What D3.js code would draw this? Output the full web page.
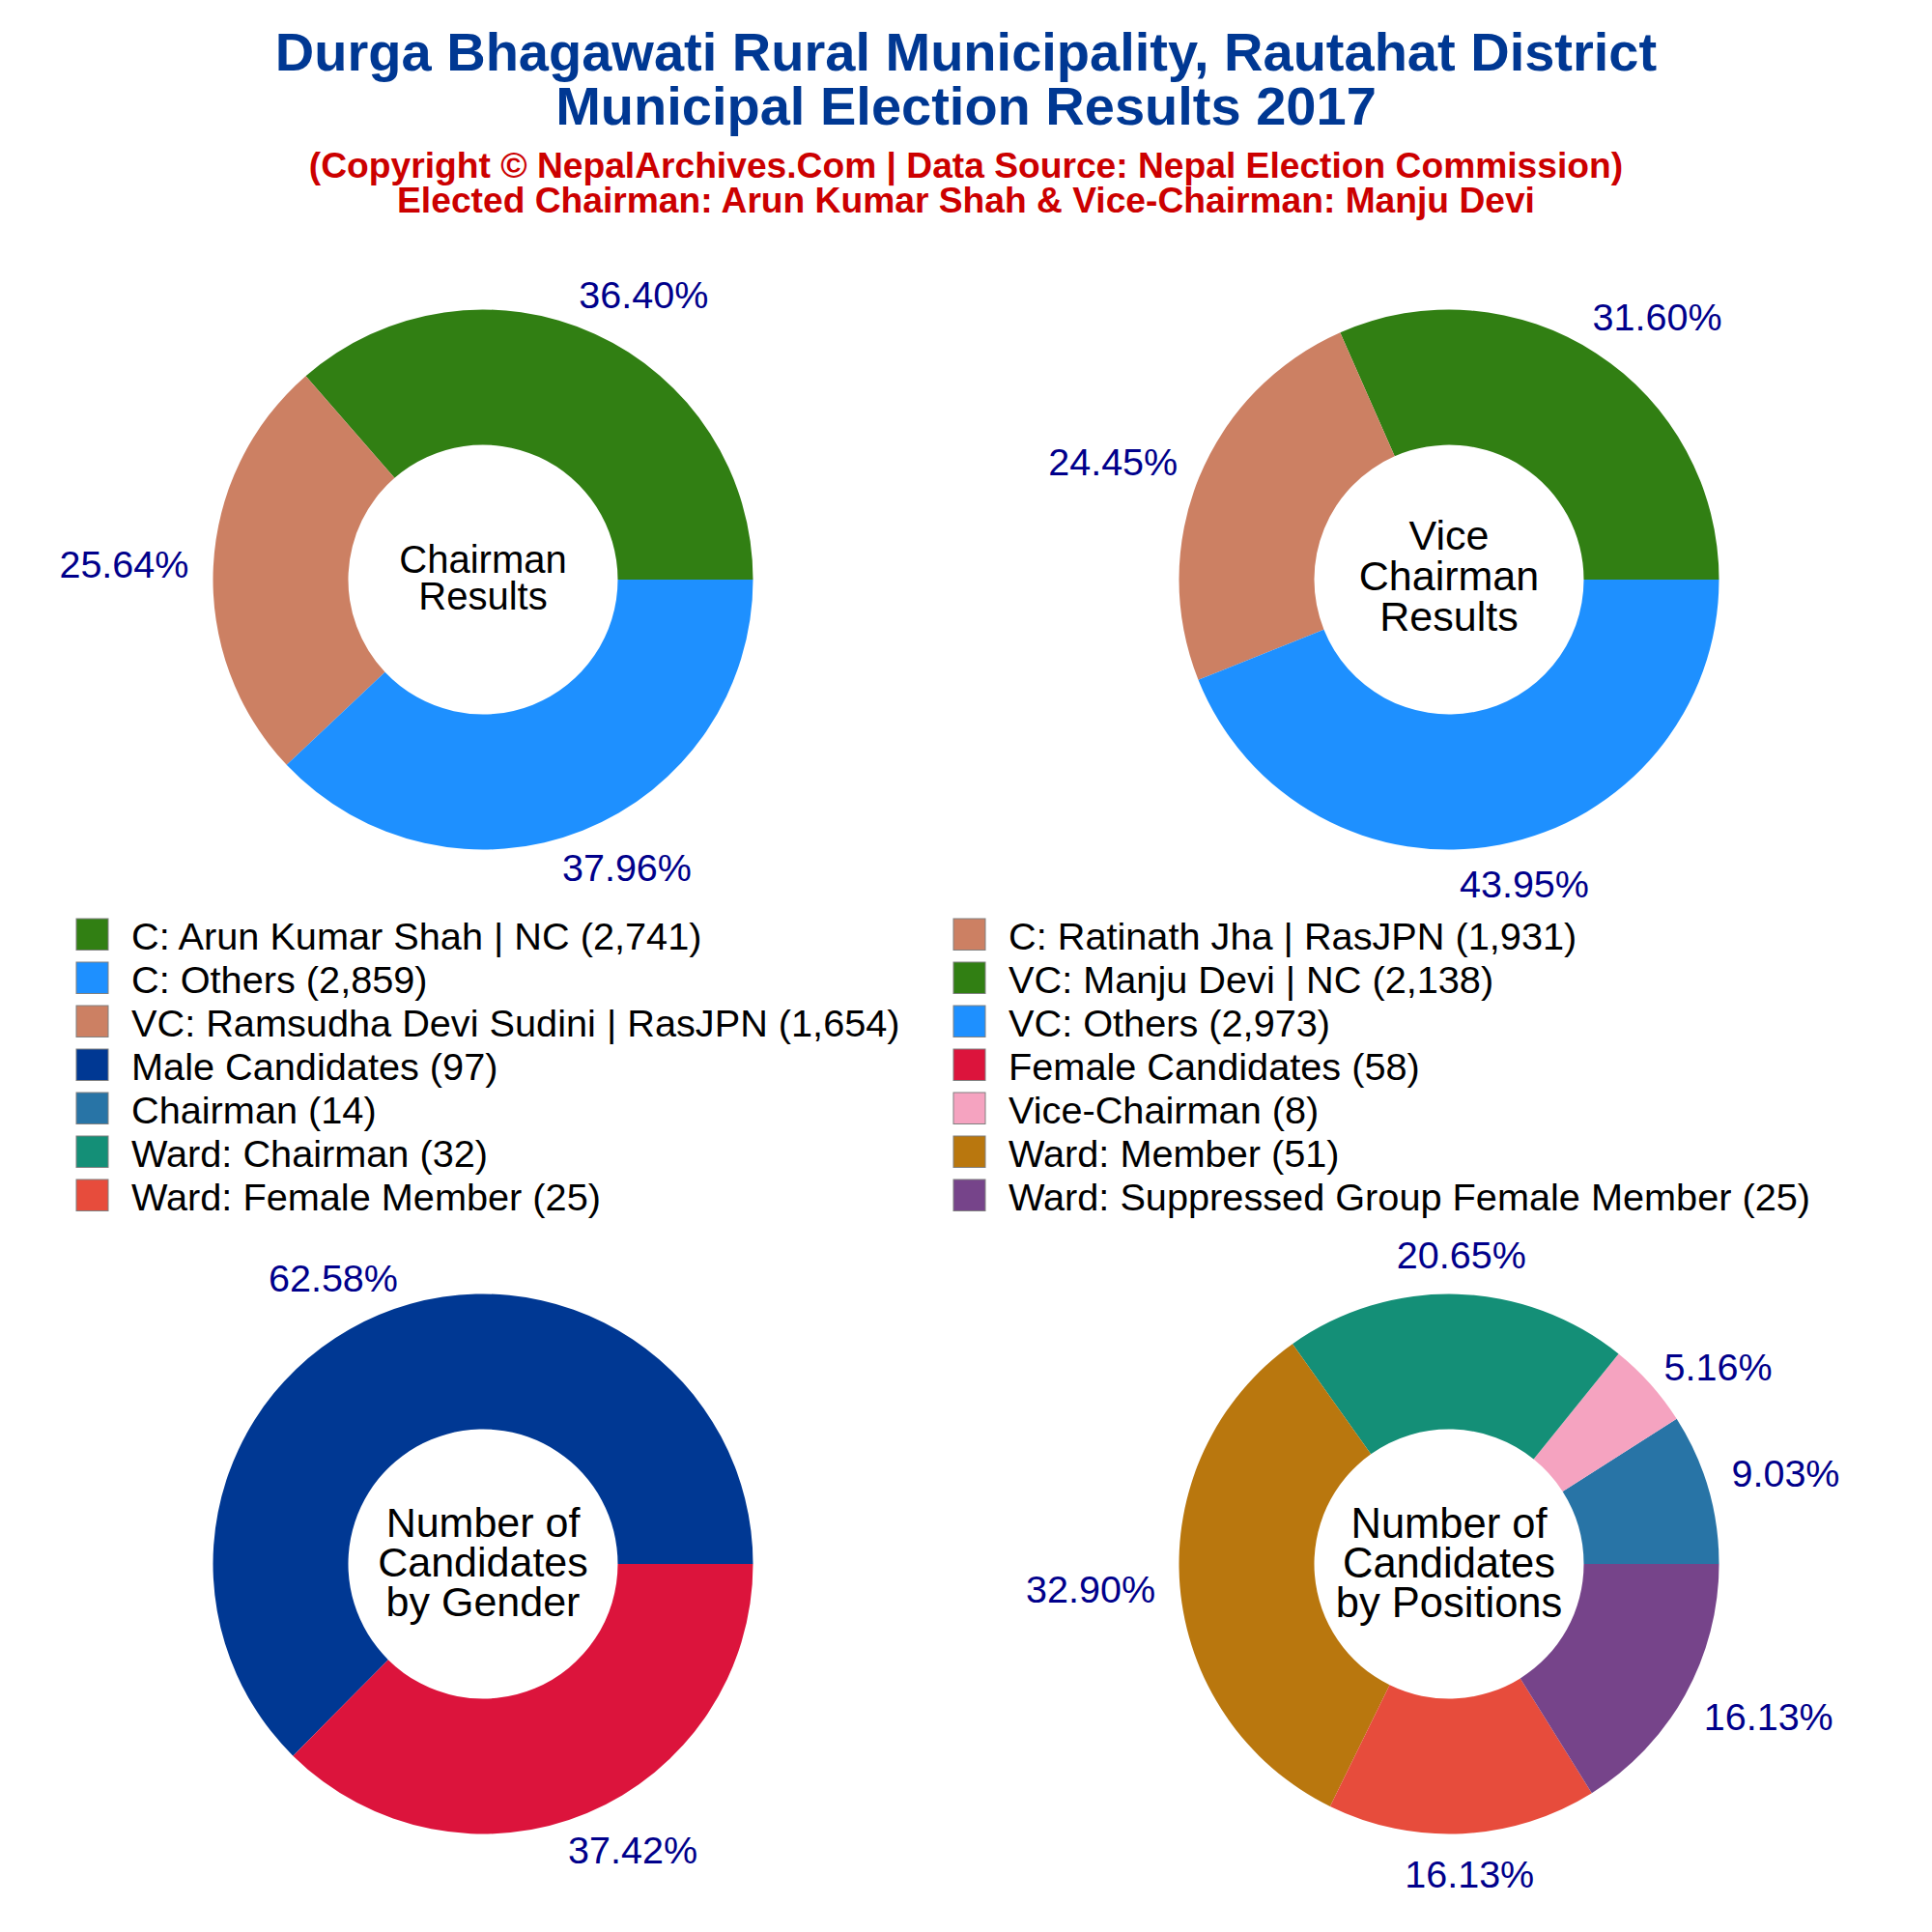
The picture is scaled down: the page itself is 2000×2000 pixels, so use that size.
<!DOCTYPE html>
<html>
<head>
<meta charset="utf-8">
<script src="https://cdn.jsdelivr.net/npm/d3@7"></script>
<style>
	html, body { margin: 0; padding: 0; background: #fff; }
	text { font-family: "Liberation Sans", Arial, sans-serif; }
</style>
</head>
<body>
<div id="canvas"></div>
<script>
const titleLines = ["Durga Bhagawati Rural Municipality, Rautahat District", "Municipal Election Results 2017"];
const subtitleLines = ["(Copyright © NepalArchives.Com | Data Source: Nepal Election Commission)", "Elected Chairman: Arun Kumar Shah & Vice-Chairman: Manju Devi"];

const chairmanNames = ["C: Arun Kumar Shah | NC", "C: Ratinath Jha | RasJPN", "C: Others"];
const chairmanValues = [2741, 1931, 2859];
const viceNames = ["VC: Manju Devi | NC", "VC: Ramsudha Devi Sudini | RasJPN", "VC: Others"];
const viceValues = [2138, 1654, 2973];
const genderNames = ["Male Candidates", "Female Candidates"];
const genderValues = [97, 58];
const positionNames = ["Chairman", "Vice-Chairman", "Ward: Chairman", "Ward: Member", "Ward: Female Member", "Ward: Suppressed Group Female Member"];
const positionValues = [14, 8, 32, 51, 25, 25];

const resultColors = ["#317f13", "#cc8063", "#1e90ff"];
const genderColors = ["#003893", "#dc143c"];
const positionColors = ["#2874a6", "#f5a3c0", "#148f77", "#b9770e", "#e74c3c", "#76448a"];

const centerTitles = [
	["Chairman", "Results"],
	["Vice", "Chairman", "Results"],
	["Number of", "Candidates", "by Gender"],
	["Number of", "Candidates", "by Positions"]
];

function init() {
	const width = 2000,
		height = 2000,
		outerRadius = 279.5,
		innerRadius = 139.5,
		labelRadius = 305;

	const svg = d3.select("#canvas").append("svg")
		.attr("width", width)
		.attr("height", height)
		.style("display", "block");

	svg.selectAll(".title")
		.data(titleLines)
		.join("text")
		.attr("class", "title")
		.attr("x", 1000)
		.attr("y", (d, i) => 73 + i * 55.5)
		.attr("text-anchor", "middle")
		.attr("font-size", 56)
		.attr("font-weight", "bold")
		.attr("fill", "#003893")
		.text(d => d);

	svg.selectAll(".subtitle")
		.data(subtitleLines)
		.join("text")
		.attr("class", "subtitle")
		.attr("x", 1000)
		.attr("y", (d, i) => 184 + i * 36)
		.attr("text-anchor", "middle")
		.attr("font-size", 37.2)
		.attr("font-weight", "bold")
		.attr("fill", "#cc0000")
		.text(d => d);

	const charts = [
		{values: chairmanValues, colors: resultColors, cx: 500, cy: 600, lines: centerTitles[0], fontSize: 40, lineHeight: 38.5, midY: -2,
			labelNudge: [-3, 0, 0]},
		{values: viceValues, colors: resultColors, cx: 1500, cy: 600, lines: centerTitles[1], fontSize: 43, lineHeight: 42, midY: -3,
			labelNudge: [-3, -1, 0]},
		{values: genderValues, colors: genderColors, cx: 500, cy: 1619, lines: centerTitles[2], fontSize: 43, lineHeight: 41, midY: -1,
			labelNudge: [0, 0]},
		{values: positionValues, colors: positionColors, cx: 1500, cy: 1619, lines: centerTitles[3], fontSize: 43.5, lineHeight: 41, midY: 0,
			labelNudge: [-4, 10, 1, 0, 0, 2]}
	];

	const pie = d3.pie()
		.sort(null)
		.startAngle(Math.PI / 2)
		.endAngle(Math.PI / 2 - 2 * Math.PI);

	const arc = d3.arc()
		.innerRadius(innerRadius)
		.outerRadius(outerRadius);

	const percent = d3.format(".2f");

	charts.forEach(c => {
		const g = svg.append("g")
			.attr("transform", `translate(${c.cx}, ${c.cy})`);
		const total = d3.sum(c.values);
		const slices = pie(c.values);

		g.selectAll("path")
			.data(slices)
			.join("path")
			.attr("d", arc)
			.attr("fill", (d, i) => c.colors[i]);

		g.selectAll(".pct")
			.data(slices)
			.join("text")
			.attr("class", "pct")
			.attr("font-size", 39.5)
			.attr("fill", "#00008b")
			.attr("text-anchor", "middle")
			.text(d => percent(d.value / total * 100) + "%")
			.each(function(d, i) {
				// label sits outside the ring, pushed out by its own half size
				const mid = (d.startAngle + d.endAngle) / 2,
					ux = Math.sin(mid),
					uy = -Math.cos(mid),
					w = this.getComputedTextLength();
				d3.select(this)
					.attr("x", ux * (labelRadius + w / 2 + 50 * (1 - Math.abs(ux))))
					.attr("y", uy * labelRadius + uy * 16 + 14 + c.labelNudge[i]);
			});

		g.selectAll(".center")
			.data(c.lines)
			.join("text")
			.attr("class", "center")
			.attr("x", 0)
			.attr("y", (d, i) => (i - (c.lines.length - 1) / 2) * c.lineHeight + 14 + c.midY)
			.attr("text-anchor", "middle")
			.attr("font-size", c.fontSize)
			.attr("fill", "#000")
			.text(d => d);
	});

	const legendNames = [...chairmanNames, ...viceNames, ...genderNames, ...positionNames];
	const legendValues = [...chairmanValues, ...viceValues, ...genderValues, ...positionValues];
	const legendColors = [...resultColors, ...resultColors, ...genderColors, ...positionColors];
	const comma = d3.format(",");

	const legend = svg.selectAll(".legend")
		.data(legendNames)
		.join("g")
		.attr("class", "legend")
		.attr("transform", (d, i) => `translate(${i % 2 ? 987 : 79}, ${951 + Math.floor(i / 2) * 45})`);

	legend.append("rect")
		.attr("width", 33)
		.attr("height", 32.5)
		.attr("fill", (d, i) => legendColors[i])
		.attr("stroke", "#808080")
		.attr("stroke-width", 1);

	legend.append("text")
		.attr("x", 57)
		.attr("y", 31.5)
		.attr("font-size", 39.7)
		.attr("fill", "#000")
		.text((d, i) => `${d} (${comma(legendValues[i])})`);
}

init();
</script>
</body>
</html>
